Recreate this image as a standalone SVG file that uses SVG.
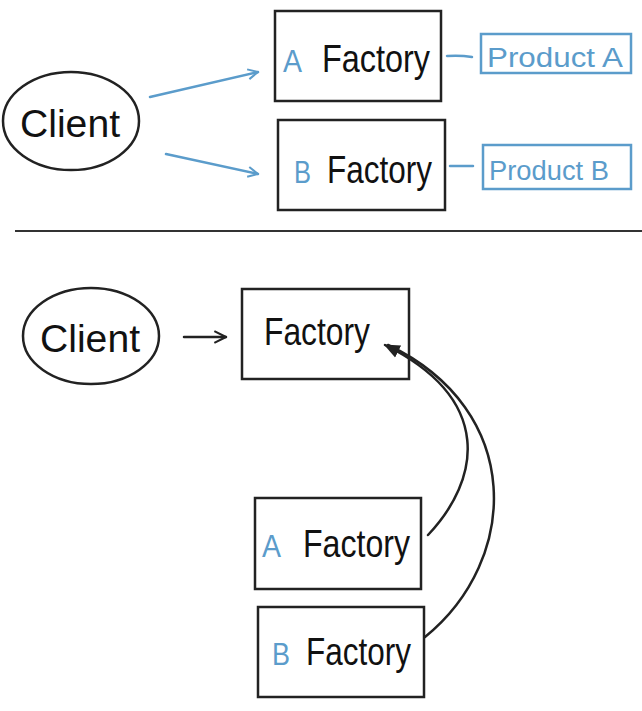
<svg xmlns="http://www.w3.org/2000/svg" width="642" height="711" viewBox="0 0 642 711">
<style>
.box{fill:none;stroke:#222;stroke-width:2.5}
.pbox{fill:none;stroke:#5b9ccb;stroke-width:2.5}
.ell{fill:none;stroke:#222;stroke-width:2.5}
.t{font-family:"Liberation Sans",Arial,sans-serif;fill:#111;font-size:38px}
.b{font-family:"Liberation Sans",Arial,sans-serif;fill:#5b9ccb;font-size:32px}
.pt{font-family:"Liberation Sans",Arial,sans-serif;fill:#5b9ccb;font-size:27px}
.bl{fill:none;stroke:#5b9ccb;stroke-width:2.5;stroke-linecap:round}
.k{fill:none;stroke:#222;stroke-width:2.5;stroke-linecap:round}
</style>
<defs>
<marker id="ob" viewBox="0 0 12 12" refX="11" refY="6" markerWidth="12" markerHeight="12" markerUnits="userSpaceOnUse" orient="auto"><path d="M1,1 L11,6 L1,11" fill="none" stroke="#5b9ccb" stroke-width="2"/></marker>
<marker id="ok" viewBox="0 0 12 12" refX="11" refY="6" markerWidth="14" markerHeight="14" markerUnits="userSpaceOnUse" orient="auto"><path d="M1,1 L11,6 L1,11" fill="none" stroke="#222" stroke-width="1.8"/></marker>
<marker id="fk" viewBox="0 0 12 12" refX="11" refY="6" markerWidth="16" markerHeight="16" markerUnits="userSpaceOnUse" orient="auto"><path d="M0,1 L12,6 L0,11 Z" fill="#222"/></marker>
</defs>
<g id="client1"><ellipse class="ell" cx="71" cy="121" rx="68" ry="49"/><text class="t" x="20" y="137" textLength="100" lengthAdjust="spacingAndGlyphs">Client</text></g>
<g id="afactory1"><rect class="box" x="275" y="11" width="166" height="90"/><text class="b" x="283" y="72" textLength="19" lengthAdjust="spacingAndGlyphs">A</text><text class="t" x="322" y="72" textLength="108" lengthAdjust="spacingAndGlyphs">Factory</text></g>
<g id="bfactory1"><rect class="box" x="278" y="120" width="167" height="90"/><text class="b" x="294" y="183" textLength="17" lengthAdjust="spacingAndGlyphs">B</text><text class="t" x="327" y="183" textLength="105" lengthAdjust="spacingAndGlyphs">Factory</text></g>
<g id="producta"><rect class="pbox" x="481" y="34" width="150" height="39"/><text class="pt" x="487" y="67" textLength="136" lengthAdjust="spacingAndGlyphs">Product A</text></g>
<g id="productb"><rect class="pbox" x="483" y="145" width="148" height="44"/><text class="pt" x="489" y="180" textLength="120" lengthAdjust="spacingAndGlyphs">Product B</text></g>
<g id="client2"><ellipse class="ell" cx="91" cy="336" rx="68" ry="48"/><text class="t" x="40" y="352" textLength="100" lengthAdjust="spacingAndGlyphs">Client</text></g>
<g id="factory"><rect class="box" x="242" y="289" width="167" height="90"/><text class="t" x="264" y="345" textLength="106" lengthAdjust="spacingAndGlyphs">Factory</text></g>
<g id="afactory2"><rect class="box" x="255" y="498" width="166" height="91"/><text class="b" x="262" y="557" textLength="19" lengthAdjust="spacingAndGlyphs">A</text><text class="t" x="303" y="557" textLength="107" lengthAdjust="spacingAndGlyphs">Factory</text></g>
<g id="bfactory2"><rect class="box" x="258" y="607" width="166" height="90"/><text class="b" x="272" y="665" textLength="18" lengthAdjust="spacingAndGlyphs">B</text><text class="t" x="306" y="665" textLength="105" lengthAdjust="spacingAndGlyphs">Factory</text></g>
<g id="connectors">
<line class="bl" x1="150" y1="97" x2="258" y2="72" marker-end="url(#ob)"/>
<line class="bl" x1="166" y1="154" x2="258" y2="174" marker-end="url(#ob)"/>
<path class="bl" d="M447,56 Q460,55 472,57"/>
<path class="bl" d="M450,166 L473,166"/>
<line x1="15" y1="231" x2="642" y2="231" stroke="#333" stroke-width="2"/>
<line class="k" x1="184" y1="337" x2="226" y2="337" marker-end="url(#ok)"/>
<path class="k" d="M428,535 C480,480 495,400 385,345" marker-end="url(#fk)"/>
<path class="k" d="M425,637 C520,560 525,410 388,345"/>
</g>
</svg>
